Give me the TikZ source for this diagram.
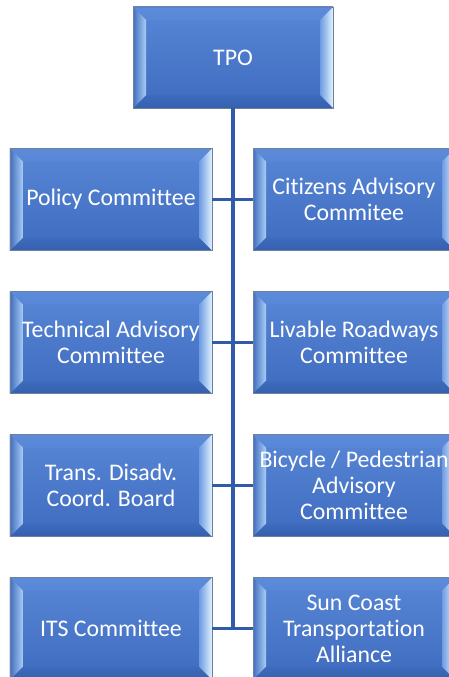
\documentclass[tikz,border=0pt]{standalone}
\usepackage{fontspec}
\setmainfont[Ligatures=NoCommon]{Carlito}
\usetikzlibrary{calc}
\definecolor{faceTop}{HTML}{5987D7}
\definecolor{faceBot}{HTML}{3E6BBE}
\definecolor{bevTop}{HTML}{5C8BDA}
\definecolor{bevBot}{HTML}{3560AE}
\definecolor{bevLa}{HTML}{416FC0}
\definecolor{bevLb}{HTML}{A9CDF5}
\definecolor{bevRa}{HTML}{6E9BE2}
\definecolor{bevRb}{HTML}{E0F2FF}
\definecolor{edge}{HTML}{6F7F9C}
\definecolor{conn}{HTML}{2F5BA8}
\tikzset{
  bevelbox/.style={rectangle, minimum width=202bp, minimum height=102bp, inner sep=0pt,
    align=center, text=white, font=\fontsize{23.8bp}{26bp}\selectfont,
    top color=faceTop, bottom color=faceBot, draw=edge, line width=0.6bp,
    path picture={
      \path (path picture bounding box.south west) coordinate (SW)
            (path picture bounding box.north east) coordinate (NE);
      \path ($(SW)+(13bp,13bp)$) coordinate (iSW) ($(NE)+(-13bp,-13bp)$) coordinate (iNE);
      \shade[top color=bevTop, bottom color=faceTop] (SW|-NE) -- (NE) -- (iNE) -- (iSW|-iNE) -- cycle;
      \shade[top color=faceBot, bottom color=bevBot] (SW) -- (NE|-SW) -- (iNE|-iSW) -- (iSW) -- cycle;
      \shade[left color=bevLa, right color=bevLb] (SW) -- (SW|-NE) -- (iSW|-iNE) -- (iSW) -- cycle;
      \shade[left color=bevRa, right color=bevRb] (NE|-SW) -- (NE) -- (iNE) -- (iNE|-iSW) -- cycle;
    }},
  conline/.style={draw=conn, line width=3bp},
  trunk/.style={draw=conn, line width=3.6bp}
}
\begin{document}
\begin{tikzpicture}[x=1bp, y=-1bp]
\useasboundingbox (0,0) rectangle (449,677);
\node[bevelbox, minimum width=200bp, minimum height=101bp] (tpo) at (233,57.5) {TPO};
\node[bevelbox] (l1) at (111,199.5) {Policy Committee};
\node[bevelbox] (r1) at (354,199.5) {Citizens Advisory\\Commitee};
\node[bevelbox] (l2) at (111,342.5) {Technical Advisory\\Committee};
\node[bevelbox] (r2) at (354,342.5) {Livable Roadways\\Committee};
\node[bevelbox] (l3) at (111,485.5) {Trans. Disadv.\\Coord. Board};
\node[bevelbox] (r3) at (354,485.5) {Bicycle / Pedestrian\\Advisory\\Committee};
\node[bevelbox] (l4) at (111,628.5) {ITS Committee};
\node[bevelbox] (r4) at (354,628.5) {Sun Coast\\Transportation\\Alliance};
\draw[trunk] (tpo.south) -- (tpo.south |- l4.east);
\draw[conline] (l1.east) -- (r1.west);
\draw[conline] (l2.east) -- (r2.west);
\draw[conline] (l3.east) -- (r3.west);
\draw[conline] (l4.east) -- (r4.west);
\end{tikzpicture}
\end{document}
